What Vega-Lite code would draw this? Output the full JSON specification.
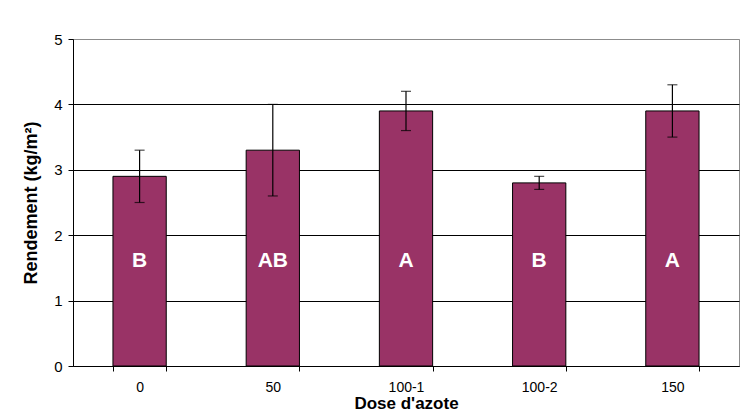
{
  "$schema": "https://vega.github.io/schema/vega-lite/v6.json",
  "autosize": "none",
  "width": 666,
  "height": 327,
  "padding": {"left": 73, "top": 39, "right": 3, "bottom": 46},
  "background": "white",
  "config": {
    "font": "Liberation Sans",
    "view": {"stroke": "#8c8c8c", "strokeWidth": 1}
  },
  "data": {
    "values": [
      {"dose": "0", "rendement": 2.9, "lo": 2.5, "hi": 3.3, "groupe": "B"},
      {"dose": "50", "rendement": 3.3, "lo": 2.6, "hi": 4.0, "groupe": "AB"},
      {"dose": "100-1", "rendement": 3.9, "lo": 3.6, "hi": 4.2, "groupe": "A"},
      {"dose": "100-2", "rendement": 2.8, "lo": 2.7, "hi": 2.9, "groupe": "B"},
      {"dose": "150", "rendement": 3.9, "lo": 3.5, "hi": 4.3, "groupe": "A"}
    ]
  },
  "encoding": {
    "x": {
      "field": "dose",
      "type": "nominal",
      "sort": null,
      "scale": {"paddingInner": 0.6, "paddingOuter": 0.3},
      "axis": {
        "title": "Dose d'azote",
        "titleFontWeight": "bold",
        "titleFontSize": 17,
        "titleColor": "black",
        "titlePadding": 1,
        "labelAngle": 0,
        "labelFontSize": 14,
        "labelColor": "black",
        "labelPadding": 9,
        "tickBand": "extent",
        "tickSize": 5,
        "tickColor": "black",
        "domainColor": "black",
        "grid": false
      }
    }
  },
  "layer": [
    {
      "mark": {"type": "bar", "fill": "#993366", "stroke": "black", "strokeWidth": 1},
      "encoding": {
        "y": {
          "field": "rendement",
          "type": "quantitative",
          "scale": {"domain": [0, 5], "nice": false},
          "axis": {
            "title": "Rendement (kg/m²)",
            "titleFontWeight": "bold",
            "titleFontSize": 18,
            "titleColor": "black",
            "titlePadding": 13,
            "values": [0, 1, 2, 3, 4, 5],
            "format": "d",
            "labelFontSize": 15,
            "labelColor": "black",
            "labelPadding": 6,
            "tickSize": 5,
            "tickColor": "black",
            "domainColor": "black",
            "grid": true,
            "gridColor": {"condition": {"test": "datum.value == 5", "value": "#8c8c8c"}, "value": "black"},
            "gridOpacity": 1
          }
        }
      }
    },
    {
      "mark": {"type": "rule", "color": "black", "strokeWidth": 1.2},
      "encoding": {
        "y": {"field": "lo", "type": "quantitative"},
        "y2": {"field": "hi"}
      }
    },
    {
      "mark": {"type": "tick", "orient": "horizontal", "color": "black", "size": 10, "thickness": 1.2},
      "encoding": {
        "y": {"field": "lo", "type": "quantitative"}
      }
    },
    {
      "mark": {"type": "tick", "orient": "horizontal", "color": "black", "size": 10, "thickness": 1.2},
      "encoding": {
        "y": {"field": "hi", "type": "quantitative"}
      }
    },
    {
      "mark": {"type": "text", "color": "white", "fontWeight": "bold", "fontSize": 21, "baseline": "middle", "align": "center"},
      "encoding": {
        "y": {"datum": 1.6, "type": "quantitative"},
        "text": {"field": "groupe"}
      }
    }
  ]
}
